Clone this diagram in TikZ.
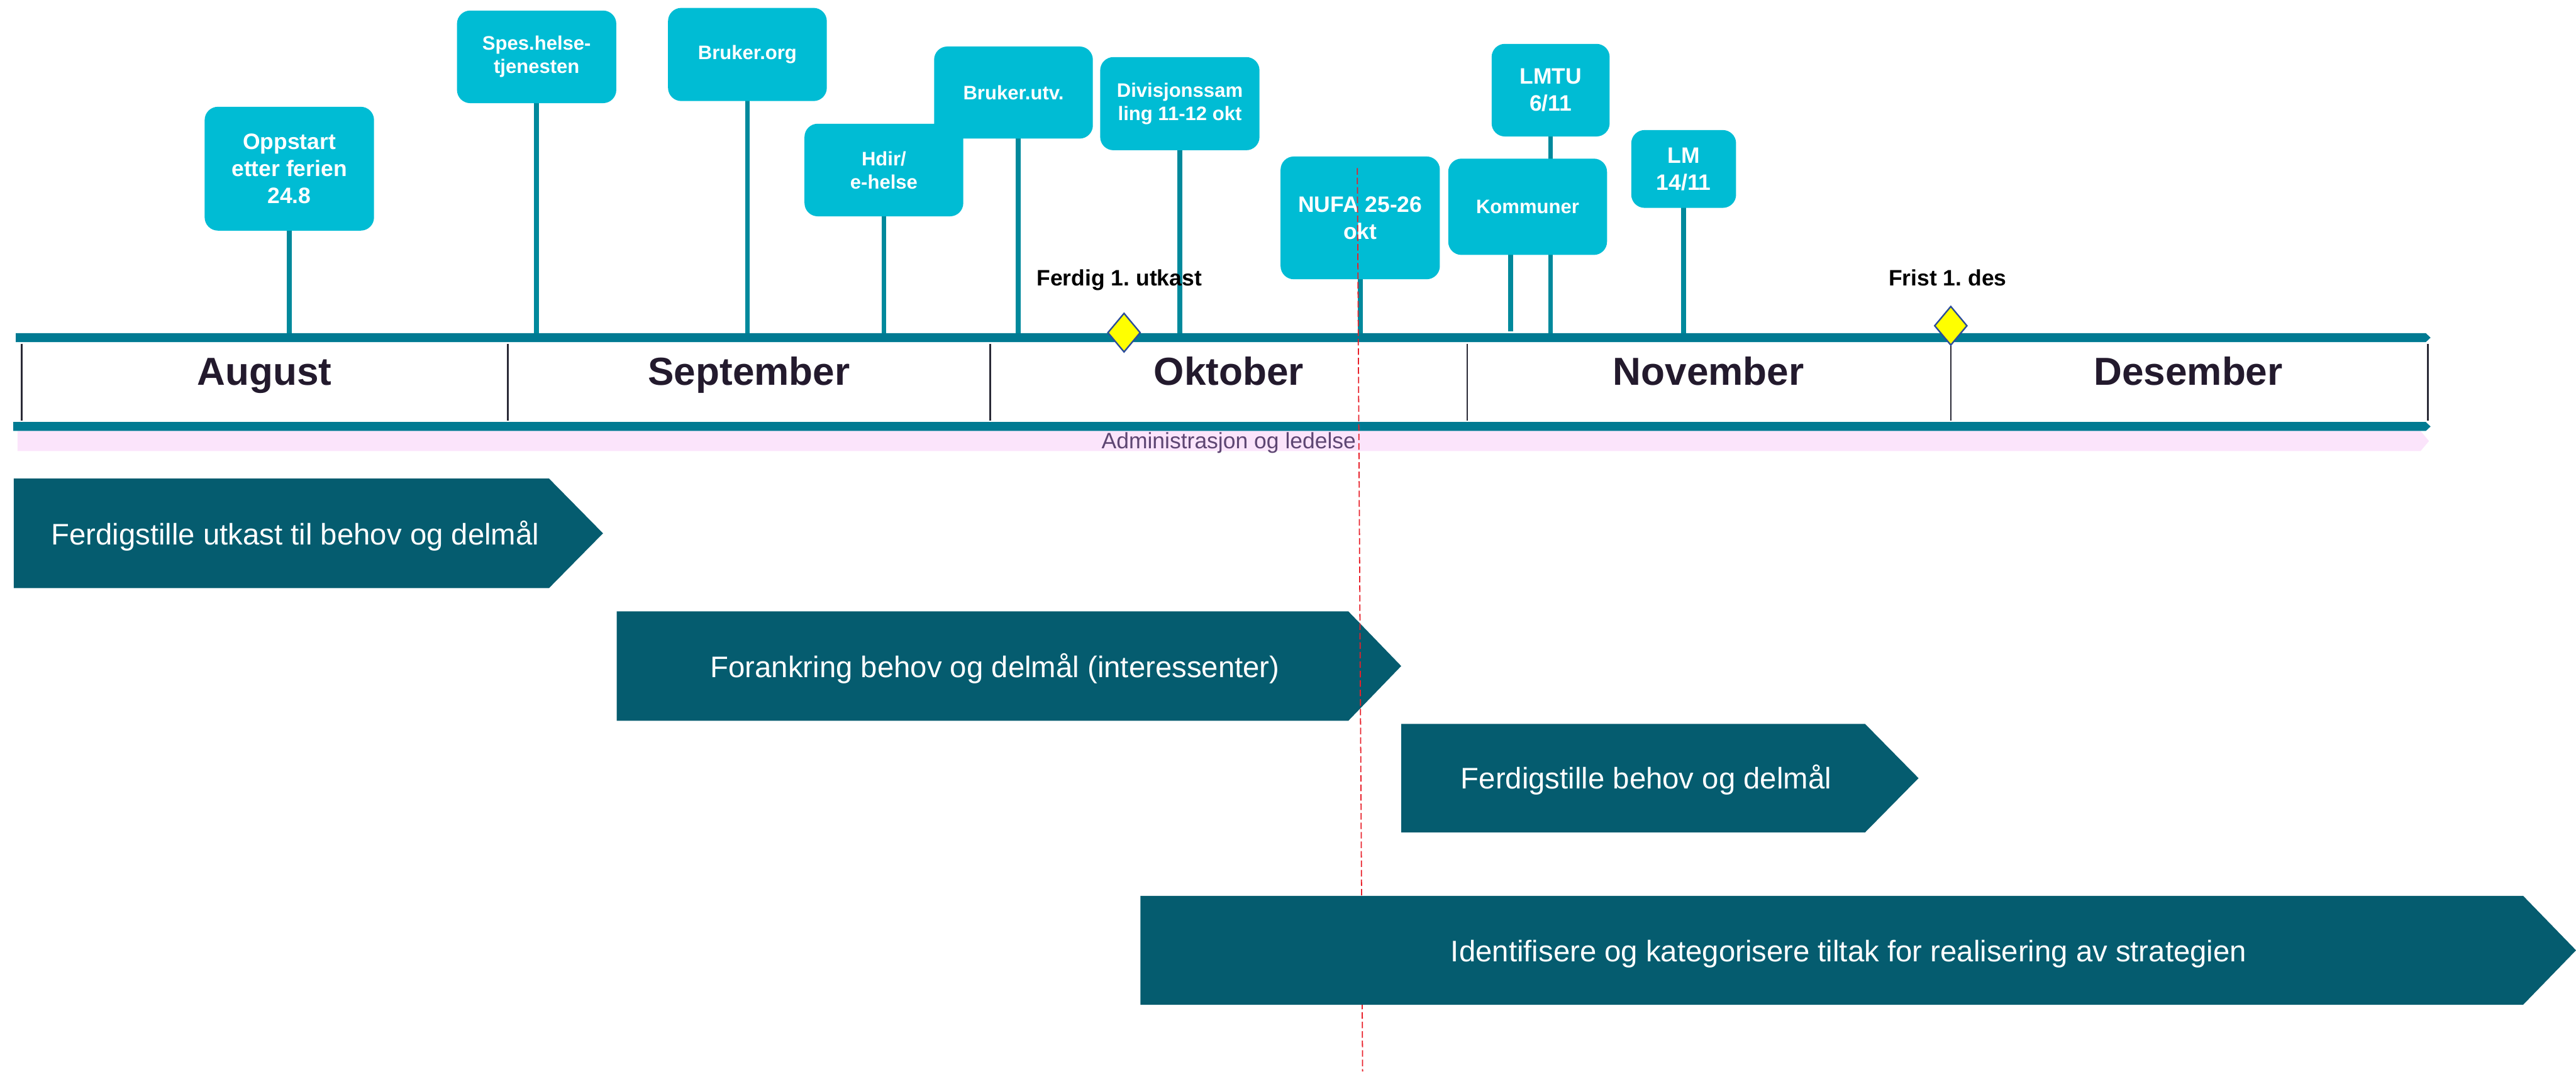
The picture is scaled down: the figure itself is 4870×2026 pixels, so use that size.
\documentclass[tikz,border=0pt]{standalone}
\usepackage{fontspec}
\setmainfont{Liberation Sans}
\usetikzlibrary{shapes.geometric}

\definecolor{boxcyan}{HTML}{00BCD4}
\definecolor{stemteal}{HTML}{00899C}
\definecolor{barteal}{HTML}{007A92}
\definecolor{phase}{HTML}{055C6F}
\definecolor{adminpink}{HTML}{FBE4FB}
\definecolor{admintext}{HTML}{5E4673}
\definecolor{monthink}{HTML}{231A2D}
\definecolor{sepink}{HTML}{2A2A36}
\definecolor{milestone}{HTML}{FFFF00}
\definecolor{milestoneedge}{HTML}{2B4C9B}
\definecolor{cutline}{HTML}{E8202A}

\pgfdeclarelayer{back}
\pgfsetlayers{back,main}

\frenchspacing

\begin{document}
\begin{tikzpicture}[x=0.01cm, y=-0.01cm,
  event/.style={fill=boxcyan, text=white, font=\bfseries\fontsize{10.5}{12.5}\selectfont,
    align=center, inner sep=0pt, rounded corners=0.25cm},
  eventbig/.style={event, font=\bfseries\fontsize{12}{14.5}\selectfont},
  stem/.style={draw=stemteal, line width=2.6pt},
  month/.style={anchor=base, text=monthink, font=\bfseries\fontsize{21}{25}\selectfont},
  monthsep/.style={draw=sepink, line width=0.8pt},
  msmark/.style={diamond, draw=milestoneedge, fill=milestone, line width=0.8pt,
    inner sep=0pt, minimum width=0.62cm, minimum height=0.74cm},
  mslabel/.style={anchor=base, font=\bfseries\fontsize{12}{14}\selectfont},
  phasetext/.style={anchor=base, text=white, font=\fontsize{16}{19}\selectfont},
  cut/.style={draw=cutline, line width=0.6pt, dash pattern=on 3.5pt off 1.6pt}
]
\useasboundingbox (0,0) rectangle (4870,2026);

% ---- timeline axis ----
\fill[barteal] (30,630) -- (4586,630) -- (4595,638.5) -- (4586,647) -- (30,647) -- cycle;
\coordinate (axistop) at (0,630);
\fill[adminpink] (33,815) -- (4576,815) -- (4592,834) -- (4576,853) -- (33,853) -- cycle;
\fill[barteal] (25,798) -- (4586,798) -- (4595,806.5) -- (4586,815) -- (25,815) -- cycle;
\node[text=admintext, font=\fontsize{12}{14}\selectfont, anchor=base] (admin) at (2323,848)
  {Administrasjon og ledelse};

% month boundaries
\foreach \sx in {41,960,1872,2774,3688,4590}
  \draw[monthsep] (\sx,650) -- (\sx,795);

% month names
\node[month] (aug) at (500,728) {August};
\node[month] (sep) at (1416,728) {September};
\node[month] (okt) at (2323,728) {Oktober};
\node[month] (nov) at (3230,728) {November};
\node[month] (des) at (4137,728) {Desember};

% ---- events ----
\node[eventbig, minimum width=3.20cm, minimum height=2.34cm] (oppstart) at (547,319)
  {Oppstart\\etter ferien\\24.8};
\node[event, minimum width=3.01cm, minimum height=1.75cm] (spes) at (1014.5,107.5)
  {Spes.helse-\\tjenesten};
\node[event, minimum width=3.00cm, minimum height=1.76cm] (brukerorg) at (1413,103)
  {Bruker.org};
\node[event, minimum width=3.00cm, minimum height=1.74cm] (brukerutv) at (1916,175)
  {Bruker.utv.};
\node[event, minimum width=3.00cm, minimum height=1.75cm] (hdir) at (1671,321.5)
  {Hdir/\\e-helse};
\node[event, minimum width=3.01cm, minimum height=1.76cm] (divisjon) at (2230.5,196)
  {Divisjonssam\\ling 11-12 okt};
\node[eventbig, minimum width=3.01cm, minimum height=2.32cm] (nufa) at (2571.5,412)
  {NUFA 25-26\\okt};
\node[eventbig, minimum width=2.23cm, minimum height=1.75cm] (lmtu) at (2931.5,170.5)
  {LMTU\\6/11};
\node[event, minimum width=3.00cm, minimum height=1.82cm] (kommuner) at (2888,391)
  {Kommuner};
\node[eventbig, minimum width=1.98cm, minimum height=1.47cm] (lm) at (3183,319.5)
  {LM\\14/11};

% stems from each event down to the axis
\begin{pgfonlayer}{back}
  \foreach \ev in {oppstart,spes,brukerorg,hdir,divisjon,nufa,lmtu,lm}
    \draw[stem] (\ev.center) -- (\ev.center |- axistop);
  \draw[stem] ([xshift=0.09cm]brukerutv.center) -- ([xshift=0.09cm]brukerutv.center |- axistop);
  \draw[stem] ([xshift=-0.32cm]kommuner.center) -- ([xshift=-0.32cm,yshift=0.03cm]kommuner.center |- axistop);
\end{pgfonlayer}

% ---- milestones ----
\node[msmark] (ms1) at (2125,629) {};
\node[mslabel] (ms1label) at (2116,540) {Ferdig 1. utkast};
\node[msmark] (ms2) at (3688,616) {};
\node[mslabel] (ms2label) at (3682,540) {Frist 1. des};

% ---- work phases ----
\fill[phase] (26,905) -- (1038,905) -- (1140,1008.5) -- (1038,1112) -- (26,1112) -- cycle;
\node[phasetext] (phase1) at (558,1030) {Ferdigstille utkast til behov og delmål};

\fill[phase] (1166,1156) -- (2549,1156) -- (2649,1259.5) -- (2549,1363) -- (1166,1363) -- cycle;
\node[phasetext] (phase2) at (1881,1281) {Forankring behov og delmål (interessenter)};

\fill[phase] (2649,1369) -- (3526,1369) -- (3627,1471.5) -- (3526,1574) -- (2649,1574) -- cycle;
\node[phasetext] (phase3) at (3112,1492) {Ferdigstille behov og delmål};

% today marker
\coordinate (cutT) at (2566,318);
\coordinate (cutB) at (2576,2026);
\draw[cut] (cutT) -- (cutB);

\fill[phase] (2156,1694) -- (4770,1694) -- (4870,1797) -- (4770,1900) -- (2156,1900) -- cycle;
\node[phasetext] (phase4) at (3495,1818)
  {Identifisere og kategorisere tiltak for realisering av strategien};

\end{tikzpicture}
\end{document}
